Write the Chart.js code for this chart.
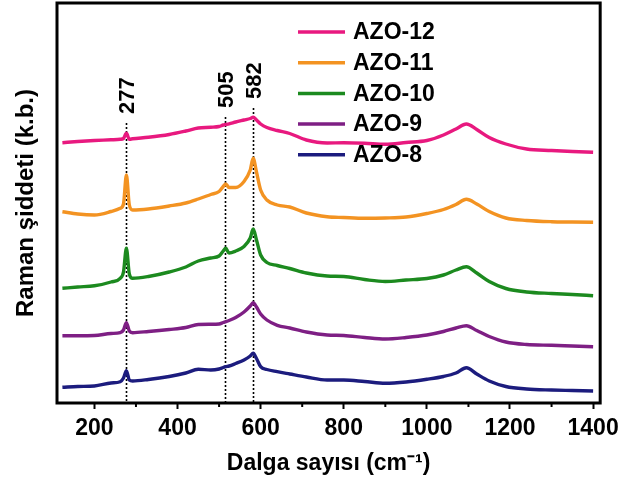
<!DOCTYPE html>
<html>
<head>
<meta charset="utf-8">
<script src="https://cdn.jsdelivr.net/npm/chart.js@4"></script>
<style>
  html, body { margin: 0; padding: 0; background: #fff; }
</style>
</head>
<body>
<canvas id="chart" width="625" height="482"></canvas>
<script>
// Raman shift (cm-1) sample points, shared by all spectra
const wavenumbers = [123, 160, 200, 240, 262, 270, 277, 284, 292, 330, 380, 420, 450, 480, 500, 510, 516, 524, 540, 560, 575, 582, 590, 600, 615, 640, 670, 710, 760, 800, 850, 900, 950, 1000, 1040, 1070, 1095, 1120, 1150, 1190, 1240, 1300, 1350, 1400];

// Intensities (arbitrary units, spectra already offset)
const azo12 = [260.3, 261.5, 262.5, 263.2, 263.7, 264.5, 269.7, 263.7, 264.2, 265.7, 268.5, 272, 275, 275.7, 276.5, 278, 278.5, 279.2, 281, 283, 284.5, 285.7, 283, 279, 275.5, 272.5, 269.5, 263, 260, 260.2, 259.7, 258.7, 260.5, 262.5, 268, 274, 279, 273.5, 265.5, 259, 254, 252.5, 251.5, 250.7];
const azo11 = [191.3, 189, 188, 191.5, 194.7, 199, 228, 198, 193, 194, 197, 200, 204, 208.5, 211.5, 216.5, 219, 215.5, 215.5, 221.5, 233, 244.7, 231, 213, 203, 198, 196, 190, 186.3, 185.5, 184.7, 185, 186, 189.5, 193.5, 198.5, 203.7, 199, 191.5, 185, 182.5, 181.3, 181, 180.7];
const azo10 = [114.7, 116, 117.2, 121, 124.7, 131, 154.7, 129, 124.7, 126.5, 131, 136, 142, 145, 147, 152, 154.7, 150, 152, 156.5, 165, 174, 163, 148, 140.5, 137.5, 134.5, 130, 127, 126.5, 123.5, 121.5, 123, 124.5, 128, 133, 136.3, 130, 121.5, 114.5, 111, 109.5, 108.5, 107.3];
const azo9 = [67.3, 67.3, 67.5, 69.5, 70.3, 73, 80.3, 72, 70.3, 71.5, 73.5, 75.5, 78.5, 78.7, 79, 80.5, 81.3, 82.5, 85.5, 91, 97, 100.3, 96, 89, 83, 77.7, 75, 71, 68, 67.5, 65.5, 64, 65.5, 68, 71.5, 75, 77.3, 72.5, 66.5, 61, 58.5, 57.7, 57, 56.3];
const azo8 = [15.7, 16.5, 17, 20, 21.3, 25, 32.3, 23, 22, 23.5, 26.5, 30, 33.7, 33, 34, 35.5, 36.3, 37, 39.5, 43, 47, 49.7, 44.5, 36.3, 33.5, 31.3, 29, 26, 23, 23, 21.5, 19.7, 21, 23.7, 26.5, 30, 35.3, 29, 22, 16.5, 14, 13, 12.5, 12];

const sampleNames = ['AZO-12', 'AZO-11', 'AZO-10', 'AZO-9', 'AZO-8'];
const majorTicks = [200, 400, 600, 800, 1000, 1200, 1400];
const minorTicks = [300, 500, 700, 900, 1100, 1300];

// marked peaks: where the dotted line sits, its label, and its top (intensity)
const peakPositions = [277, 515, 582];
const peakLabels = ['277', '505', '582'];
const peakTops = [280, 286, 295];

const colors = ['#e8197f', '#f39322', '#1c8a1f', '#7e1f84', '#1c1c7e'];
const FONT = "'Liberation Sans', Arial, sans-serif";

Chart.defaults.font.family = FONT;
Chart.defaults.color = '#000';

function toPoints(values) {
    return wavenumbers.map((w, i) => ({ x: w, y: values[i] }));
}

// dotted guide lines, frame, minor ticks, peak labels and inside legend
const decorations = {
    id: 'decorations',
    beforeDatasetsDraw(chart) {
        const { ctx, chartArea: a, scales: { x, y } } = chart;
        ctx.save();
        ctx.setLineDash([2, 2]);
        ctx.lineWidth = 1.6;
        ctx.strokeStyle = '#000';
        peakPositions.forEach((p, i) => {
            const px = Math.round(x.getPixelForValue(p)) + 0.5;
            ctx.beginPath();
            ctx.moveTo(px, y.getPixelForValue(peakTops[i]));
            ctx.lineTo(px, a.bottom);
            ctx.stroke();
        });
        ctx.restore();
    },
    afterDatasetsDraw(chart) {
        const { ctx, chartArea: a, scales: { x, y } } = chart;
        ctx.save();

        // frame
        ctx.strokeStyle = '#000';
        ctx.lineWidth = 3;
        ctx.strokeRect(a.left, a.top, a.right - a.left, a.bottom - a.top);

        // minor ticks
        ctx.lineWidth = 2;
        minorTicks.forEach(v => {
            const px = x.getPixelForValue(v);
            ctx.beginPath();
            ctx.moveTo(px, a.bottom);
            ctx.lineTo(px, a.bottom + 4);
            ctx.stroke();
        });

        // peak labels (rotated)
        ctx.fillStyle = '#000';
        ctx.font = 'bold 22px ' + FONT;
        ctx.textAlign = 'left';
        ctx.textBaseline = 'middle';
        peakPositions.forEach((p, i) => {
            const px = x.getPixelForValue(p) + 2;
            const py = y.getPixelForValue(peakTops[i]) - 9;
            ctx.save();
            ctx.translate(px, py);
            ctx.rotate(-Math.PI / 2);
            ctx.fillText(peakLabels[i], 0, 0);
            ctx.restore();
        });

        // legend
        ctx.font = 'bold 23px ' + FONT;
        chart.data.datasets.forEach((ds, i) => {
            const ly = a.top + 29 + i * 30.7;
            ctx.strokeStyle = ds.borderColor;
            ctx.lineWidth = 3.5;
            ctx.beginPath();
            ctx.moveTo(a.left + 241, ly);
            ctx.lineTo(a.left + 288, ly);
            ctx.stroke();
            ctx.fillText(ds.label, a.left + 296, ly + 1);
        });
        ctx.restore();
    }
};

const ctx = document.getElementById('chart').getContext('2d');
const series = [azo12, azo11, azo10, azo9, azo8];

new Chart(ctx, {
    type: 'line',
    data: {
        datasets: series.map((s, i) => ({
            label: sampleNames[i],
            data: toPoints(s),
            borderColor: colors[i],
            backgroundColor: colors[i],
            borderWidth: 3.4,
            pointRadius: 0,
            cubicInterpolationMode: 'monotone',
            fill: false
        }))
    },
    options: {
        responsive: false,
        animation: false,
        layout: { padding: { left: 0, top: 3, right: 23, bottom: 0 } },
        plugins: {
            legend: { display: false },
            tooltip: { enabled: false }
        },
        scales: {
            x: {
                type: 'linear',
                min: 110,
                max: 1417,
                afterBuildTicks: scale => {
                    scale.ticks = majorTicks.map(v => ({ value: v }));
                },
                afterFit: scale => { scale.height = 79; },
                ticks: {
                    font: { size: 23, weight: 'bold' },
                    padding: 6,
                    maxRotation: 0,
                    autoSkip: false,
                    callback: v => String(v)
                },
                grid: {
                    drawOnChartArea: false,
                    tickLength: 6,
                    tickWidth: 2,
                    tickColor: '#000'
                },
                border: { display: false },
                title: {
                    display: true,
                    text: 'Dalga sayısı (cm⁻¹)',
                    font: { size: 23, weight: 'bold' },
                    padding: { top: 0, bottom: 5 }
                }
            },
            y: {
                min: 0,
                max: 400,
                afterFit: scale => { scale.width = 57; },
                ticks: { display: false },
                grid: { display: false },
                border: { display: false },
                title: {
                    display: true,
                    text: 'Raman şiddeti (k.b.)',
                    font: { size: 24, weight: 'bold' },
                    padding: { top: 12, bottom: 0 }
                }
            }
        }
    },
    plugins: [decorations]
});
</script>
</body>
</html>
